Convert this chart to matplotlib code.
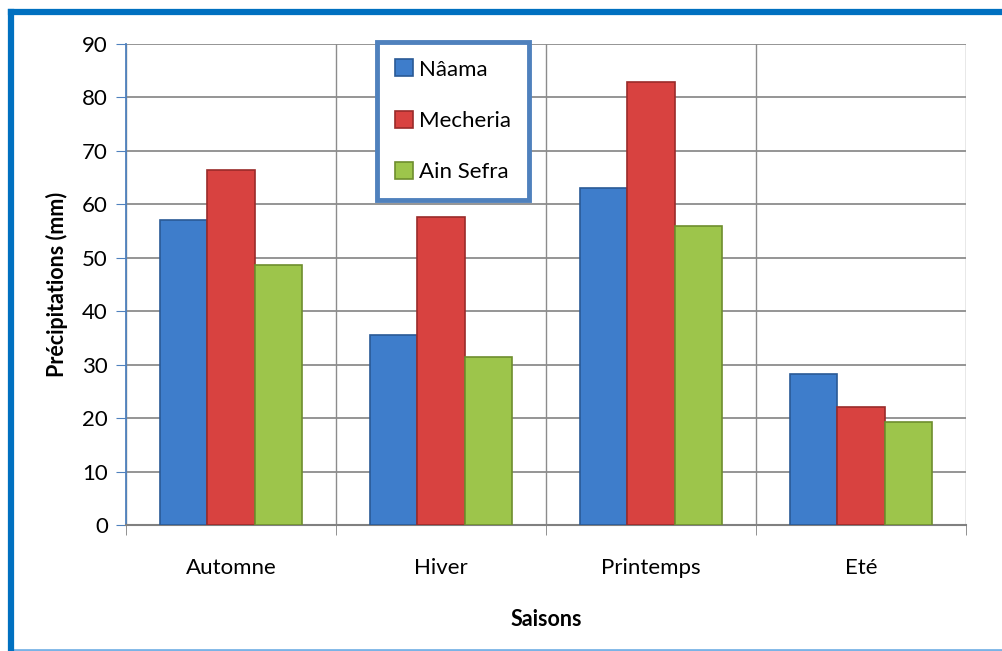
import matplotlib.pyplot as plt
import numpy as np

plt.rcParams['font.family'] = ['Lato', 'DejaVu Sans']

saisons = ['Automne', 'Hiver', 'Printemps', 'Eté']
stations = ['Nâama', 'Mecheria', 'Ain Sefra']
naama = [57.1, 35.6, 63.1, 28.3]
mecheria = [66.4, 57.6, 82.9, 22.1]
ain_sefra = [48.6, 31.4, 56.0, 19.3]

couleurs = ['#3E7DCB', '#D84240', '#9DC54B']
bords = ['#2A5A96', '#9A2B2A', '#6E8E2E']

fig = plt.figure(figsize=(10.02, 6.51), dpi=100)
ax = fig.add_axes([126 / 1002, 1 - 525 / 651, 840 / 1002, 481 / 651])

x = np.arange(len(saisons))
w = 0.224
for i, vals in enumerate([naama, mecheria, ain_sefra]):
    ax.bar(x + (i - 1) * w, vals, w, color=couleurs[i], edgecolor=bords[i],
           linewidth=1.2, label=stations[i], zorder=3)

ax.set_xlim(-0.5, 3.5)
ax.set_ylim(0, 90)
ax.set_yticks(range(0, 91, 10))
ax.set_xticks(x)
ax.set_xticklabels(saisons)
ax.set_xticks(np.arange(-0.5, 3.6, 1), minor=True)
ax.tick_params(axis='x', which='major', length=0, labelsize=16, pad=24)
ax.tick_params(axis='x', which='minor', length=7, color='#808080', direction='out')
ax.tick_params(axis='y', length=7, color='#4F81BD', labelsize=16, pad=6)

ax.grid(axis='y', color='#8C8C8C', linewidth=1.3, zorder=0)
ax.grid(axis='x', which='minor', color='#8C8C8C', linewidth=1.0, zorder=0)
for s in ['top', 'right']:
    ax.spines[s].set_visible(False)
ax.spines['left'].set_color('#4F81BD')
ax.spines['left'].set_linewidth(1.3)
ax.spines['bottom'].set_color('#808080')
ax.spines['bottom'].set_linewidth(1.5)

ax.set_ylabel('Précipitations (mm)', fontsize=15.5, fontweight='bold', labelpad=10)
ax.set_xlabel('Saisons', fontsize=15.5, fontweight='bold', labelpad=22)

leg = ax.legend(loc='upper left', bbox_to_anchor=(251 / 840, 1.005), fontsize=16,
                frameon=True, fancybox=False, handlelength=0.8, handleheight=0.8,
                handletextpad=0.3, labelspacing=1.4, borderpad=0.8, borderaxespad=0)
leg.get_frame().set_edgecolor('#4F81BD')
leg.get_frame().set_linewidth(3.5)
leg.get_frame().set_alpha(1)

# cadre du graphique (gauche et haut épais, bas clair)
X0, YT, YB = 11 / 1002, 1 - 11.5 / 651, 1 - 649.5 / 651
fig.add_artist(plt.Line2D([X0, 1.0], [YB, YB], transform=fig.transFigure,
                          color='#79B3E6', linewidth=2))
fig.add_artist(plt.Line2D([X0, X0], [YB, YT], transform=fig.transFigure,
                          color='#0070C0', linewidth=4.5))
fig.add_artist(plt.Line2D([X0, 1.0], [YT, YT], transform=fig.transFigure,
                          color='#0070C0', linewidth=4.5))

fig.savefig('out.png', dpi=100)
